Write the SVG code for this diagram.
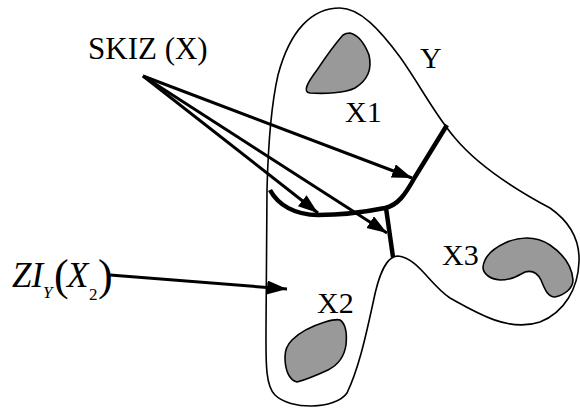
<svg xmlns="http://www.w3.org/2000/svg" width="580" height="408" viewBox="0 0 580 408">
<style>
text{font-family:'Liberation Serif','Times New Roman',Tinos,'DejaVu Serif','Noto Serif',serif;fill:#000}
.lbl{font-size:30px}
.it{font-style:italic}
.outline{fill:none;stroke:#000;stroke-width:1.6}
.blob{fill:#999;stroke:#000;stroke-width:1.6}
.skiz{fill:none;stroke:#000;stroke-width:4.5;stroke-linejoin:round}
.arr{fill:none;stroke:#000;stroke-width:3;marker-end:url(#ah)}
</style>
<defs>
<marker id="ah" markerUnits="userSpaceOnUse" markerWidth="22" markerHeight="16" refX="20" refY="7" orient="auto">
<path d="M0,0 L20,7 L0,14 Z" fill="#000"/>
</marker>
</defs>
<rect width="580" height="408" fill="#fff"/>
<g id="Y">
<path class="outline" d="M340 8 C360 8,380 30,400 57 C420 85,435 115,455 138 C480 168,520 192,550 208 C570 222,580 240,579 262 C578 288,565 312,540 322 C510 332,480 315,450 298 C430 285,418 258,398 256 C385 256,378 278,373 303 C365 340,358 370,347 393 C335 410,290 410,275 395 C265 385,266 360,266 330 L267 190 C268 150,270 110,278 75 C290 30,312 8,340 8 Z"/>
<text class="lbl" x="420" y="68">Y</text>
</g>
<g id="X1">
<path class="blob" d="M350 33 C358 35,364 42,369 55 C372 68,368 80,355 88 C345 93,325 94,310 93 C302 92,308 82,317 70 C325 58,335 44,343 35 C346 33,348 33,350 33 Z"/>
<text class="lbl" x="345" y="122">X1</text>
</g>
<g id="X2">
<path class="blob" d="M340 320 C346 324,347 335,346 345 C344 358,338 365,328 370 C315 376,305 380,297 382 C289 380,285 370,285 357 C285 349,288 344,292 340 C300 332,312 326,325 322 C332 320,337 319,340 320 Z"/>
<text class="lbl" x="317" y="313">X2</text>
</g>
<g id="X3">
<path class="blob" d="M483 267 C484 258,490 250,505 243 C518 237,535 235,550 245 C563 254,572 265,573 280 C573 288,565 295,555 297 C548 297,545 290,541 280 C537 272,532 270,525 272 C516 277,510 280,500 280 C490 279,483 274,483 267 Z"/>
<text class="lbl" x="442" y="265">X3</text>
</g>
<g id="SKIZ">
<path class="skiz" d="M447 125 L415 177 C405 195,398 205,385 208 C360 213,340 215,318 215 C295 215,278 205,270 190"/>
<path class="skiz" d="M386 208 L393 257"/>
<text x="88" y="59" font-size="31">SKIZ (X)</text>
</g>
<g id="ZI">
<text class="it" x="12" y="287" font-size="35">ZI</text>
<text class="it" x="43" y="298" font-size="17">Y</text>
<text x="54" y="290" font-size="44">(</text>
<text class="it" x="67" y="287" font-size="35">X</text>
<text x="89" y="300" font-size="17">2</text>
<text x="98" y="290" font-size="44">)</text>
</g>
<g id="connectors">
<line class="arr" x1="143" y1="76" x2="412" y2="178"/>
<line class="arr" x1="143" y1="76" x2="318" y2="213"/>
<line class="arr" x1="143" y1="76" x2="387" y2="233"/>
<line class="arr" x1="110" y1="275" x2="287" y2="289"/>
</g>
</svg>
